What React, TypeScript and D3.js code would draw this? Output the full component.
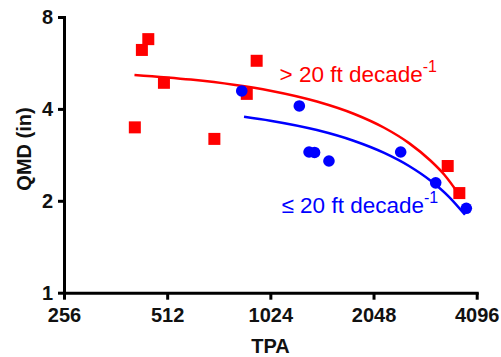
import React, { useEffect, useRef } from "react"
import * as d3 from "d3"

// TPA / QMD readings for the two groups
const redTPA = [451, 432, 501, 934, 874, 412, 703, 3371, 3645]
const redQMD = [6.77, 6.24, 4.87, 5.75, 4.48, 3.48, 3.19, 2.60, 2.12]

const blueTPA = [845, 1244, 1328, 1378, 1518, 2458, 3110, 3820]
const blueQMD = [4.58, 4.09, 2.89, 2.88, 2.70, 2.89, 2.29, 1.89]

// fitted curves
const redFitTPA = [411, 600, 800, 1024, 1400, 1800, 2200, 2600, 3000, 3300, 3645]
const redFitQMD = [5.17, 4.99, 4.80, 4.59, 4.23, 3.85, 3.47, 3.09, 2.71, 2.43, 2.09]

const blueFitTPA = [858, 1024, 1400, 1800, 2200, 2600, 3000, 3400, 3786]
const blueFitQMD = [3.77, 3.66, 3.41, 3.14, 2.87, 2.60, 2.33, 2.06, 1.80]

const xTicks = [256, 512, 1024, 2048, 4096]
const yTicks = [1, 2, 4, 8]

const App = () => {
    const ref = useRef<SVGGElement>(null)
    const width = 501
    const height = 357

    useEffect(() => {
        const g = d3.select(ref.current)
        g.selectAll('*').remove()

        const font = '"Liberation Sans", Arial, sans-serif'

        const xScale = d3.scaleLog().base(2)
            .domain([256, 4096])
            .range([64, 476.7])

        const yScale = d3.scaleLog().base(2)
            .domain([1, 8])
            .range([292.7, 17])

        const xAxis = d3.axisBottom(xScale)
            .tickValues(xTicks)
            .tickFormat(d3.format('d'))
            .tickSize(7)
            .tickSizeOuter(0)
            .tickPadding(8)

        const xAxisG = g.append('g')
            .attr('transform', `translate(0, ${292.7})`)
            .call(xAxis)

        const yAxis = d3.axisLeft(yScale)
            .tickValues(yTicks)
            .tickFormat(d3.format('d'))
            .tickSize(6)
            .tickSizeOuter(0)
            .tickPadding(5)

        const yAxisG = g.append('g')
            .attr('transform', `translate(${64}, 0)`)
            .call(yAxis)

        for (const ax of [xAxisG, yAxisG]) {
            ax.select('.domain')
                .attr('stroke', '#000')
                .attr('stroke-width', 3)
                .attr('stroke-linecap', 'square')
            ax.selectAll('.tick line')
                .attr('stroke', '#000')
                .attr('stroke-width', 3)
            ax.selectAll('.tick text')
                .attr('fill', '#111')
                .attr('font-family', font)
                .attr('font-weight', 'bold')
                .attr('font-size', 20)
        }

        g.append('text')
            .attr('x', 270.5)
            .attr('y', 353)
            .attr('text-anchor', 'middle')
            .attr('font-family', font)
            .attr('font-weight', 'bold')
            .attr('font-size', 20)
            .attr('fill', '#111')
            .text('TPA')

        g.append('text')
            .attr('transform', `translate(${31}, ${149}) rotate(-90)`)
            .attr('text-anchor', 'middle')
            .attr('font-family', font)
            .attr('font-weight', 'bold')
            .attr('font-size', 20)
            .attr('fill', '#111')
            .text('QMD (in)')

        const line = d3.line<[number, number]>()
            .x(d => xScale(d[0]))
            .y(d => yScale(d[1]))
            .curve(d3.curveMonotoneX)

        g.append('path')
            .datum(redFitTPA.map((t, i) => [t, redFitQMD[i]] as [number, number]))
            .attr('d', line)
            .attr('fill', 'none')
            .attr('stroke', '#ff0000')
            .attr('stroke-width', 2.5)

        g.append('path')
            .datum(blueFitTPA.map((t, i) => [t, blueFitQMD[i]] as [number, number]))
            .attr('d', line)
            .attr('fill', 'none')
            .attr('stroke', '#0000ff')
            .attr('stroke-width', 2.5)

        const sq = 12
        g.selectAll('rect.red')
            .data(redTPA.map((t, i) => [t, redQMD[i]]))
            .enter().append('rect')
                .attr('class', 'red')
                .attr('x', d => xScale(d[0]) - sq / 2)
                .attr('y', d => yScale(d[1]) - sq / 2)
                .attr('width', sq)
                .attr('height', sq)
                .attr('fill', '#ff0000')

        g.selectAll('circle.blue')
            .data(blueTPA.map((t, i) => [t, blueQMD[i]]))
            .enter().append('circle')
                .attr('class', 'blue')
                .attr('cx', d => xScale(d[0]))
                .attr('cy', d => yScale(d[1]))
                .attr('r', 5.8)
                .attr('fill', '#0000ff')

        const addLabel = (x: number, y: number, txt: string, color: string) => {
            const t = g.append('text')
                .attr('x', x)
                .attr('y', y)
                .attr('font-family', font)
                .attr('font-size', 22.5)
                .attr('fill', color)
            t.append('tspan').text(txt)
            t.append('tspan')
                .attr('font-size', 16)
                .attr('dy', -10)
                .text('-1')
        }

        addLabel(279.5, 81.7, '> 20 ft decade', '#ff0000')
        addLabel(281.5, 213.3, '\u2264 20 ft decade', '#0000ff')
    }, [])

    return (
        <div style={{ position: 'absolute', left: 0, top: 0 }}>
            <svg width={width} height={height} style={{ display: 'block', background: '#fff' }}>
                <g ref={ref} />
            </svg>
        </div>
    )
}

export default App
